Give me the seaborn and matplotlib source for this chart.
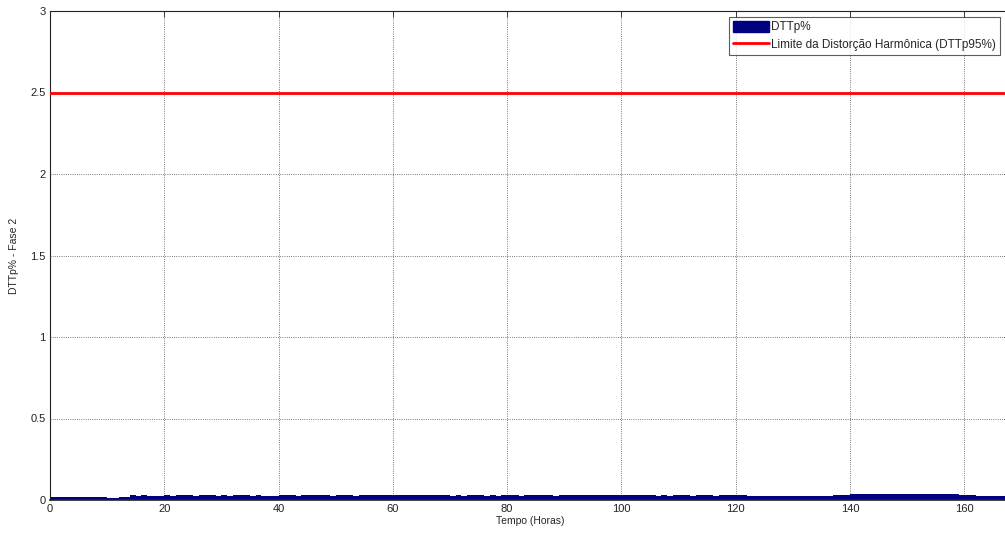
import numpy as np
import pandas as pd
import matplotlib
matplotlib.use("Agg")
import matplotlib.pyplot as plt
import seaborn as sns
from matplotlib.patches import Patch
from matplotlib.lines import Line2D

# ---- data ----
hours = list(range(0, 168))
dtt_values = [
    0.020, 0.019, 0.018, 0.019, 0.018, 0.019, 0.020, 0.019, 0.017, 0.016,
    0.015, 0.015, 0.016, 0.020, 0.028, 0.027, 0.028, 0.027, 0.026, 0.027,
    0.028, 0.027, 0.028, 0.029, 0.028, 0.027, 0.028, 0.029, 0.028, 0.027,
    0.028, 0.027, 0.028, 0.031, 0.028, 0.027, 0.028, 0.027, 0.026, 0.027,
    0.028, 0.029, 0.028, 0.027, 0.028, 0.029, 0.030, 0.029, 0.028, 0.027,
    0.028, 0.029, 0.028, 0.027, 0.028, 0.029, 0.028, 0.029, 0.030, 0.029,
    0.028, 0.029, 0.030, 0.029, 0.032, 0.030, 0.029, 0.028, 0.029, 0.028,
    0.027, 0.028, 0.027, 0.028, 0.029, 0.028, 0.027, 0.028, 0.027, 0.028,
    0.029, 0.028, 0.027, 0.028, 0.029, 0.028, 0.029, 0.028, 0.027, 0.028,
    0.029, 0.030, 0.029, 0.028, 0.029, 0.030, 0.029, 0.028, 0.029, 0.030,
    0.031, 0.030, 0.029, 0.028, 0.029, 0.028, 0.027, 0.028, 0.027, 0.028,
    0.029, 0.028, 0.027, 0.028, 0.029, 0.028, 0.027, 0.028, 0.029, 0.028,
    0.029, 0.028, 0.027, 0.025, 0.026, 0.025, 0.024, 0.025, 0.024, 0.025,
    0.026, 0.025, 0.024, 0.025, 0.026, 0.025, 0.026, 0.028, 0.030, 0.032,
    0.034, 0.036, 0.037, 0.038, 0.037, 0.036, 0.037, 0.036, 0.035, 0.036,
    0.037, 0.036, 0.035, 0.036, 0.035, 0.036, 0.035, 0.034, 0.035, 0.033,
    0.031, 0.028, 0.026, 0.025, 0.026, 0.025, 0.026, 0.027,
]
limit_value = 2.5
x_ticks = [0, 20, 40, 60, 80, 100, 120, 140, 160]
y_ticks = [0, 0.5, 1, 1.5, 2, 2.5, 3]
y_tick_labels = ["0", "0.5", "1", "1.5", "2", "2.5", "3"]
bar_label = "DTTp%"
limit_label = "Limite da Distorção Harmônica (DTTp95%)"

df = pd.DataFrame({"hora": [h + 0.5 for h in hours], "dtt": dtt_values})

sns.set_style("white")
plt.rcParams["font.family"] = ["Liberation Sans", "DejaVu Sans"]

W, H = 1005, 538
fig = plt.figure(figsize=(W / 100, H / 100), dpi=100)
ax = fig.add_axes([50 / W, (H - 500) / H, 960 / W, 489 / H])

sns.barplot(data=df, x="hora", y="dtt", native_scale=True, color="#000080",
            width=1.0, linewidth=0, saturation=1, ax=ax, errorbar=None)
ax.axhline(limit_value, color="#ff0000", linewidth=2.0, zorder=3)

ax.set_xlim(0, 168)
ax.set_ylim(0, 3)
ax.set_xticks(x_ticks)
ax.set_xticklabels([str(t) for t in x_ticks])
ax.set_yticks(y_ticks)
ax.set_yticklabels(y_tick_labels)
ax.grid(True, linestyle=":", color="black", linewidth=0.6, alpha=0.7)
ax.set_axisbelow(True)
ax.tick_params(direction="in", length=4, width=0.6, top=True, right=True,
               labelsize=8, colors="#222222", pad=3)
for s in ax.spines.values():
    s.set_color("#222222")
    s.set_linewidth(0.8)
ax.spines["bottom"].set_linewidth(1.2)
ax.set_xlabel("Tempo (Horas)", fontsize=7.5, labelpad=1)
ax.set_ylabel("DTTp% - Fase 2", fontsize=7.5, labelpad=8)

handles = [Patch(facecolor="#000080", edgecolor="#000080"),
           Line2D([0], [0], color="#ff0000", linewidth=2.0)]
leg = fig.legend(handles, [bar_label, limit_label], loc="upper left",
                 bbox_to_anchor=(729 / W, 1 - 17 / H), fontsize=8.5,
                 frameon=True, fancybox=False, borderpad=0.35,
                 handlelength=3.0, handleheight=1.0, handletextpad=0.2,
                 labelspacing=0.4, borderaxespad=0)
leg.get_frame().set_edgecolor("#333333")
leg.get_frame().set_linewidth(0.8)

fig.savefig("out.png", dpi=100)
